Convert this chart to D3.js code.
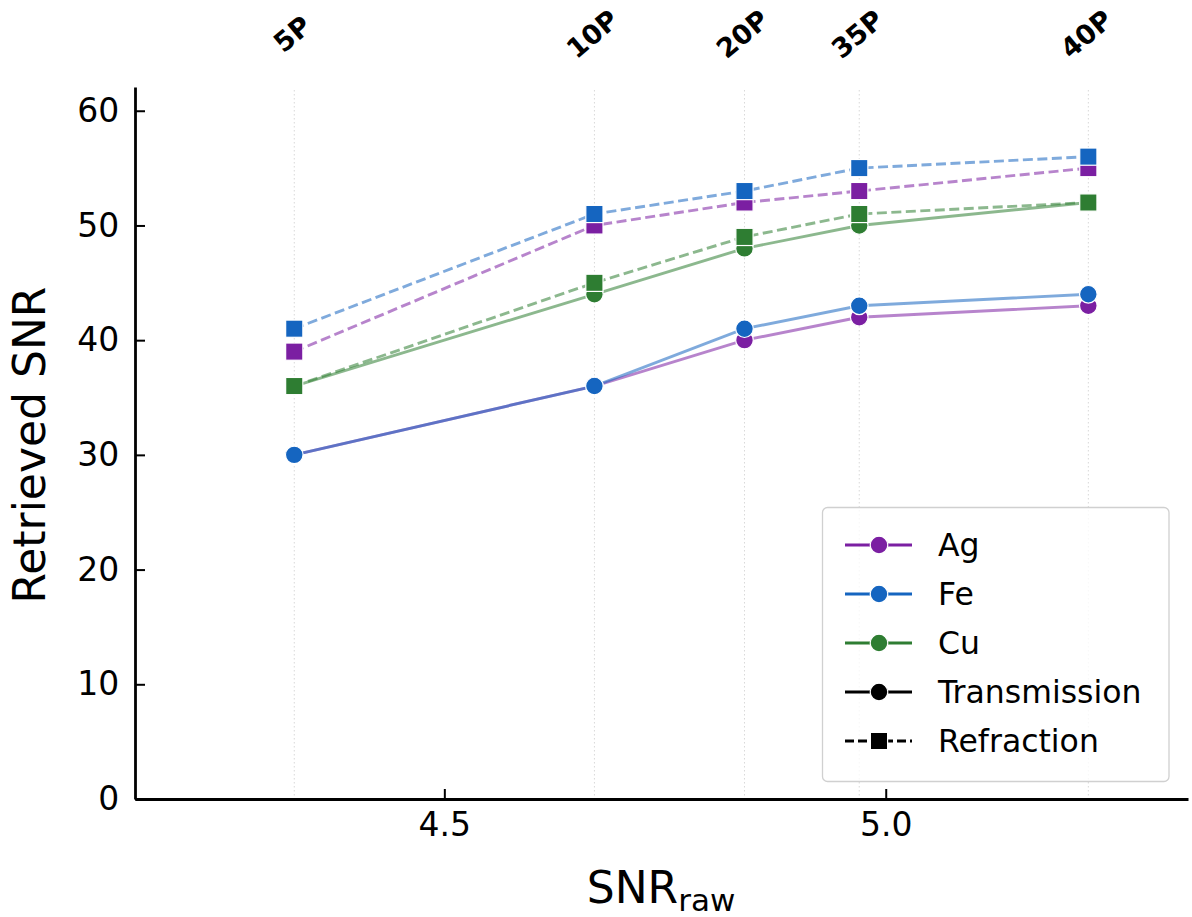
<!DOCTYPE html>
<html><head><meta charset="utf-8">
<script src="https://cdn.jsdelivr.net/npm/d3@7"></script>
<style>body{margin:0;background:#fff}svg{display:block;font-family:"DejaVu Sans",sans-serif}</style>
</head><body><svg id="c" width="1192" height="917"></svg>
<script>
const snrRaw = [4.330, 4.670, 4.840, 4.970, 5.2295];
const topLabels = ["5P", "10P", "20P", "35P", "40P"];
const elements = ["Ag", "Fe", "Cu"];
const transAg = [30, 36, 40, 42, 43];
const transFe = [30, 36, 41, 43, 44];
const transCu = [36, 44, 48, 50, 52];
const refrAg = [39, 50, 52, 53, 55];
const refrFe = [41, 51, 53, 55, 56];
const refrCu = [36, 45, 49, 51, 52];
const xTicks = [4.5, 5.0];
const yTicks = [0, 10, 20, 30, 40, 50, 60];
const colors = {Ag: "#7B1FA2", Fe: "#1565C0", Cu: "#2E7D32"};

const series = [
  {el: "Ag", mode: "T", vals: transAg}, {el: "Ag", mode: "R", vals: refrAg},
  {el: "Fe", mode: "T", vals: transFe}, {el: "Fe", mode: "R", vals: refrFe},
  {el: "Cu", mode: "T", vals: transCu}, {el: "Cu", mode: "R", vals: refrCu}
];

const L = 135, R = 1188, T = 87, B = 799;
const svg = d3.select("#c");
const x = d3.scaleLinear().domain([4.1496, 5.3424]).range([L, R]);
const y = d3.scaleLinear().domain([0, 62.07]).range([B, T]);

// grid
svg.append("g").selectAll("line").data(snrRaw).join("line")
  .attr("x1", d => x(d)).attr("x2", d => x(d)).attr("y1", T + 3).attr("y2", B)
  .attr("stroke", "#d8d8d8").attr("stroke-width", 1).attr("stroke-dasharray", "1.5,2.5");

// top labels
svg.append("g").selectAll("text").data(snrRaw).join("text")
  .attr("transform", (d) => `translate(${x(d) - 2},34) rotate(-40)`)
  .attr("text-anchor", "middle").attr("dominant-baseline", "central")
  .attr("font-weight", "bold").attr("font-size", 27)
  .text((d, i) => topLabels[i]);

// axes
const xAxis = d3.axisBottom(x).tickValues(xTicks).tickFormat(d3.format(".1f")).tickSizeInner(-10).tickSizeOuter(0).tickPadding(14);
const yAxis = d3.axisLeft(y).tickValues(yTicks).tickFormat(d3.format("d")).tickSizeInner(-10).tickSizeOuter(0).tickPadding(14);
const gx = svg.append("g").attr("transform", `translate(0,${B})`).call(xAxis);
const gy = svg.append("g").attr("transform", `translate(${L},0)`).call(yAxis);
[gx, gy].forEach(g => {
  g.select(".domain").attr("stroke", "#000").attr("stroke-width", 2.8);
  g.selectAll(".tick line").attr("stroke", "#000").attr("stroke-width", 2);
  g.selectAll(".tick text").attr("font-size", 33).attr("fill", "#000").attr("font-family", "DejaVu Sans");
});
gy.selectAll(".tick text").attr("dx", "-0.05em");

// lines and markers
const line = d3.line().x((d, i) => x(snrRaw[i])).y(d => y(d));
const plot = svg.append("g");
series.forEach(s => {
  const g = plot.append("g");
  g.append("path").attr("d", line(s.vals)).attr("fill", "none")
    .attr("stroke", colors[s.el]).attr("stroke-opacity", 0.55).attr("stroke-width", 2.9)
    .attr("stroke-dasharray", s.mode === "R" ? "10,4.5" : null);
  if (s.mode === "T") {
    g.selectAll("circle").data(s.vals).join("circle")
      .attr("cx", (d, i) => x(snrRaw[i])).attr("cy", d => y(d)).attr("r", 8.8)
      .attr("fill", colors[s.el]).attr("stroke", "#fff").attr("stroke-width", 1.2);
  } else {
    g.selectAll("rect").data(s.vals).join("rect")
      .attr("x", (d, i) => x(snrRaw[i]) - 8.6).attr("y", d => y(d) - 8.6)
      .attr("width", 17.2).attr("height", 17.2)
      .attr("fill", colors[s.el]).attr("stroke", "#fff").attr("stroke-width", 1.2);
  }
});

// axis labels
svg.append("text").attr("transform", "translate(45,445) rotate(-90)")
  .attr("text-anchor", "middle").attr("font-size", 44).text("Retrieved SNR");
const xl = svg.append("text").attr("x", 661).attr("y", 903).attr("text-anchor", "middle").attr("font-size", 44);
xl.append("tspan").text("SNR");
xl.append("tspan").attr("font-size", 31).attr("dy", 8).text("raw");

// legend
const lg = svg.append("g");
lg.append("rect").attr("x", 822.5).attr("y", 507.5).attr("width", 346.5).attr("height", 274).attr("rx", 5)
  .attr("fill", "#fff").attr("fill-opacity", 0.8).attr("stroke", "#d0d0d0").attr("stroke-width", 1.3);
const legendItems = [
  {label: "Ag", color: colors.Ag, shape: "c", dash: null},
  {label: "Fe", color: colors.Fe, shape: "c", dash: null},
  {label: "Cu", color: colors.Cu, shape: "c", dash: null},
  {label: "Transmission", color: "#000", shape: "c", dash: null},
  {label: "Refraction", color: "#000", shape: "s", dash: "9,4"}
];
const rowY = [545, 594, 643, 692, 741];
legendItems.forEach((it, i) => {
  const yy = rowY[i];
  lg.append("line").attr("x1", 845).attr("x2", 912).attr("y1", yy).attr("y2", yy)
    .attr("stroke", it.color).attr("stroke-width", 2.8).attr("stroke-dasharray", it.dash);
  if (it.shape === "c") {
    lg.append("circle").attr("cx", 879).attr("cy", yy).attr("r", 8.8).attr("fill", it.color)
      .attr("stroke", "#fff").attr("stroke-width", 1.2);
  } else {
    lg.append("rect").attr("x", 879 - 8.6).attr("y", yy - 8.6).attr("width", 17.2).attr("height", 17.2)
      .attr("fill", it.color).attr("stroke", "#fff").attr("stroke-width", 1.2);
  }
  lg.append("text").attr("x", 938).attr("y", yy).attr("dominant-baseline", "central")
    .attr("font-size", 31.5).text(it.label);
});
</script></body></html>
